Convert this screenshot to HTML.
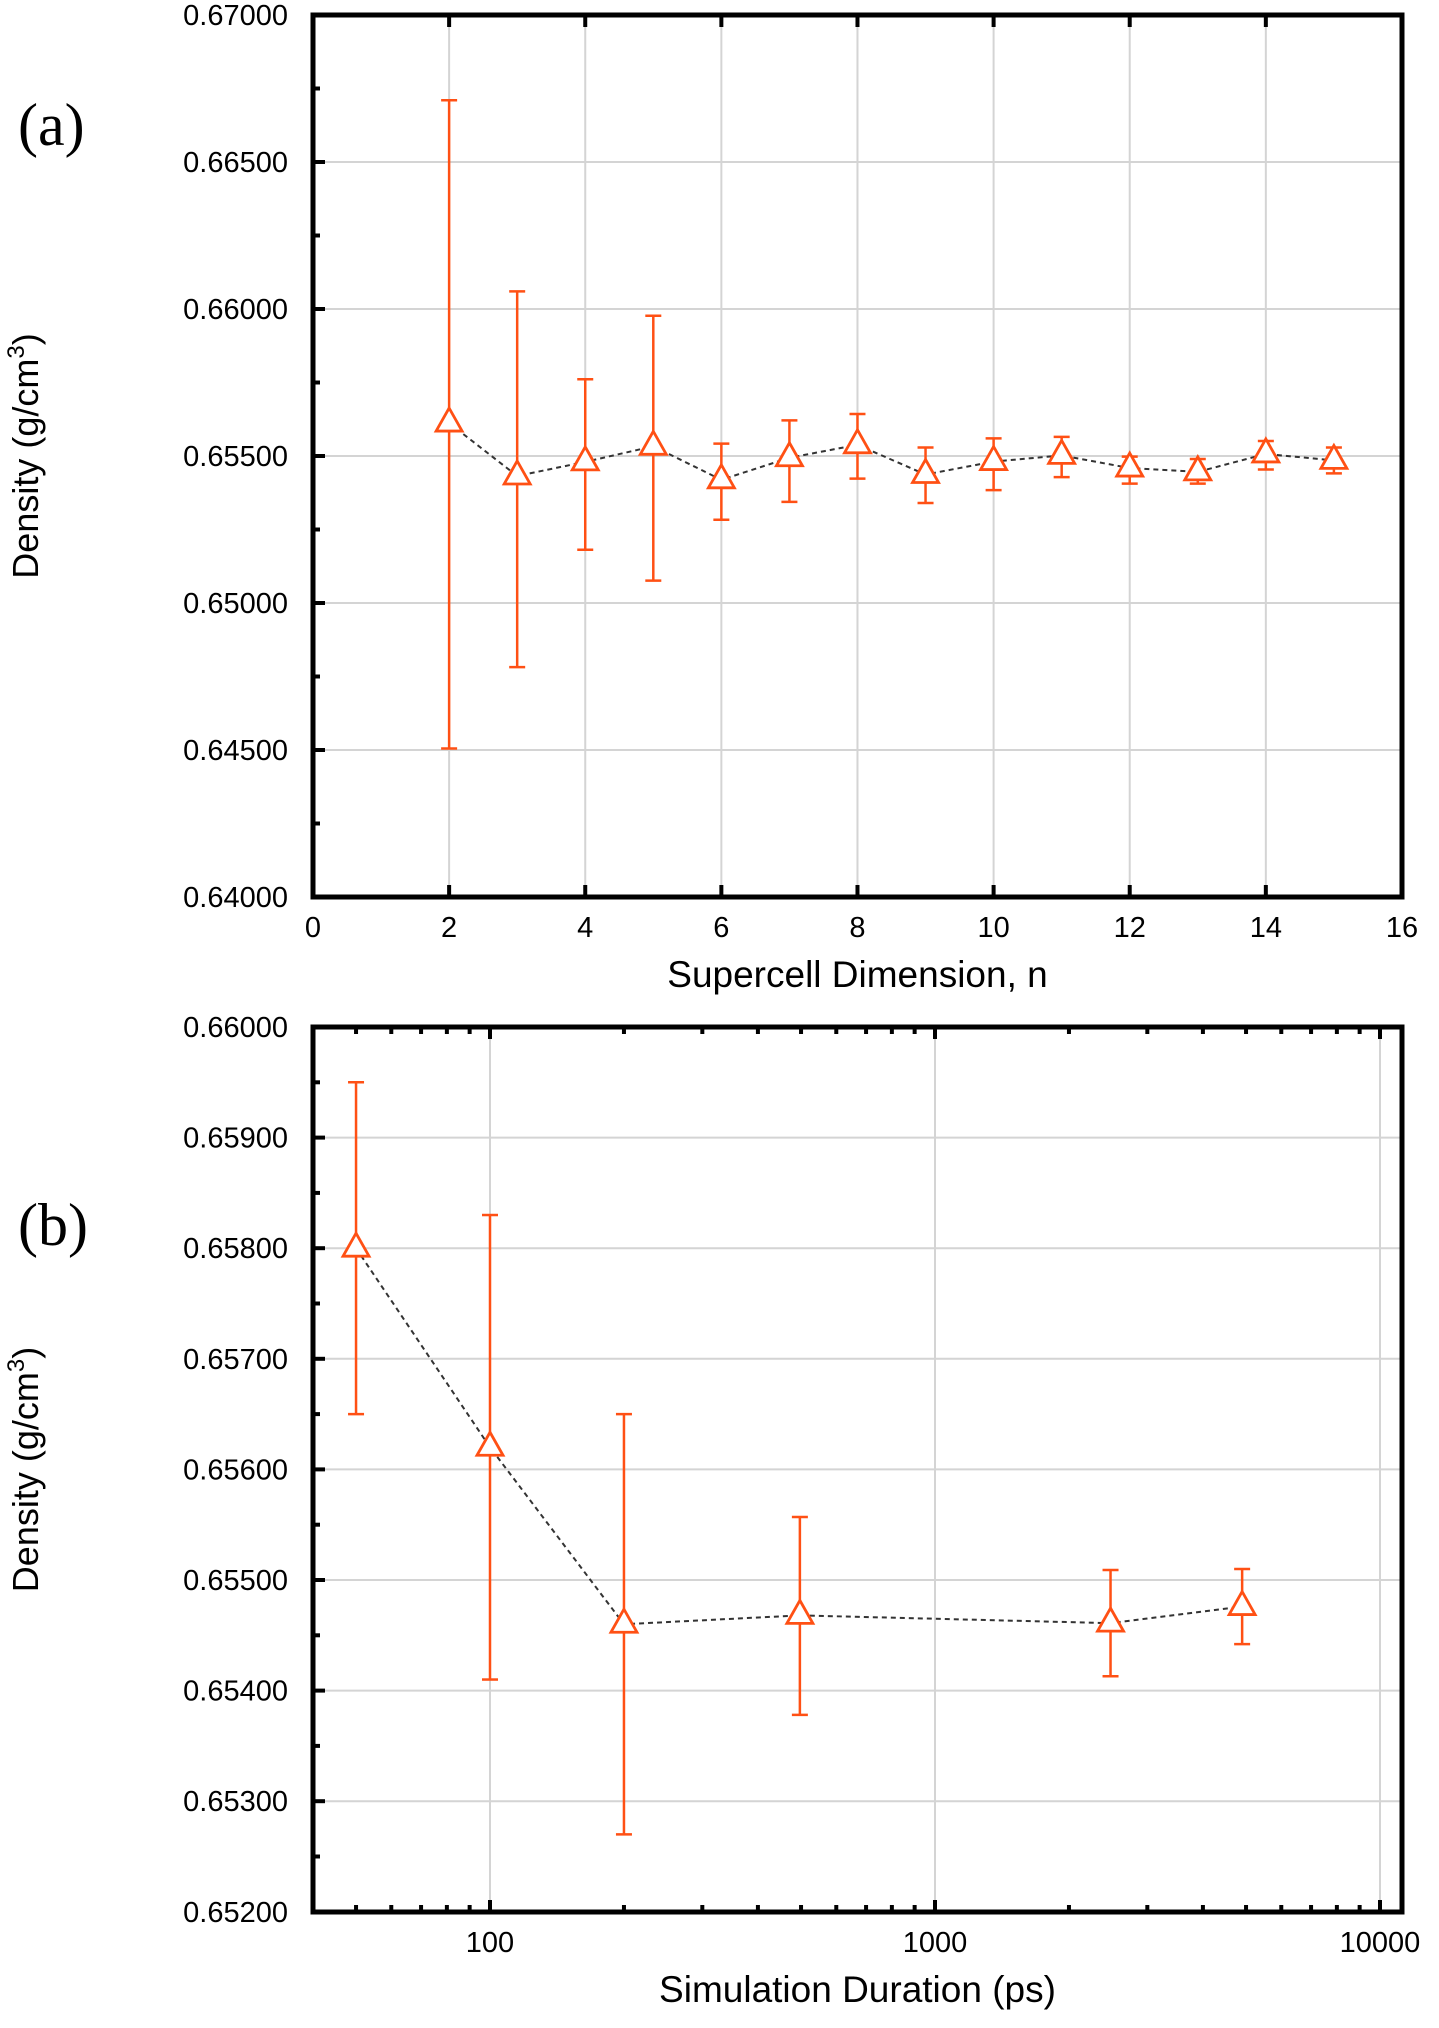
<!DOCTYPE html>
<html><head><meta charset="utf-8"><style>
html,body{margin:0;padding:0;background:#fff;}
svg{display:block;}
text{font-family:"Liberation Sans",sans-serif;fill:#000;}
</style></head><body>
<svg id="s" width="1439" height="2028" xmlns="http://www.w3.org/2000/svg"></svg>
<script>
var s=document.getElementById('s');var o='';
var C='#ff5014';
function L(x1,y1,x2,y2,st){o+='<line x1="'+x1+'" y1="'+y1+'" x2="'+x2+'" y2="'+y2+'" style="'+st+'"/>';}
function T(x,y,t,a,sz,extra){o+='<text x="'+x+'" y="'+y+'" font-size="'+(sz||28)+'" text-anchor="'+(a||'middle')+'" '+(extra||'')+'>'+t+'</text>';}
function panel(P){
 var l=313,r=1402,t=P.top,b=P.bot;
 P.xt.forEach(function(v){var x=P.fx(v);if(x>l+3&&x<r-3)L(x,t,x,b,'stroke:#d4d4d4;stroke-width:2');});
 P.yt.forEach(function(v){var y=P.fy(v);if(y>t+3&&y<b-3)L(l,y,r,y,'stroke:#d4d4d4;stroke-width:2');});
 P.xt.forEach(function(v){var x=P.fx(v);L(x,b,x,b-12,'stroke:#000;stroke-width:4');L(x,t,x,t+12,'stroke:#000;stroke-width:4');T(x,b+40,P.xl(v),'middle',29);});
 P.xm.forEach(function(v){var x=P.fx(v);L(x,b,x,b-7,'stroke:#000;stroke-width:4');L(x,t,x,t+7,'stroke:#000;stroke-width:4');});
 P.yt.forEach(function(v){var y=P.fy(v);L(l,y,l+12,y,'stroke:#000;stroke-width:4');T(288,y+10,v.toFixed(5),'end',29);});
 P.ym.forEach(function(v){var y=P.fy(v);L(l,y,l+7,y,'stroke:#000;stroke-width:4');});
 var pts=P.d.map(function(d){return P.fx(d[0])+','+P.fy(d[1]);}).join(' ');
 o+='<polyline points="'+pts+'" fill="none" stroke="#333" stroke-width="2" stroke-dasharray="5,4"/>';
 P.d.forEach(function(d){var x=P.fx(d[0]),y1=P.fy(d[2]),y2=P.fy(d[3]),y=P.fy(d[1]);
  L(x,y1,x,y2,'stroke:'+C+';stroke-width:2.5');L(x-8,y1,x+8,y1,'stroke:'+C+';stroke-width:2.5');L(x-8,y2,x+8,y2,'stroke:'+C+';stroke-width:2.5');
  o+='<polygon points="'+x+','+(y-15)+' '+(x-13)+','+(y+8)+' '+(x+13)+','+(y+8)+'" fill="#fff" stroke="'+C+'" stroke-width="2.8"/>';});
 o+='<rect x="'+l+'" y="'+t+'" width="'+(r-l)+'" height="'+(b-t)+'" fill="none" stroke="#000" stroke-width="5"/>';
 var cy=(t+b)/2;
 o+='<text x="0" y="0" font-size="36" text-anchor="middle" transform="translate(38,'+cy+') rotate(-90)">Density (g/cm<tspan dy="-14" font-size="24">3</tspan><tspan dy="14">)</tspan></text>';
 T((l+r)/2,b+90,P.xtitle,'middle',37);
}
var a={top:15,bot:897,fx:function(v){return 313+v*68.06;},fy:function(v){return 15+(0.670-v)/0.005*147;},
 xt:[0,2,4,6,8,10,12,14,16],xm:[],xl:function(v){return v;},yt:[0.640,0.645,0.650,0.655,0.660,0.665,0.670],ym:[0.6425,0.6475,0.6525,0.6575,0.6625,0.6675],
 xtitle:'Supercell Dimension, n',
 d:[[2,.65612,.66710,.64505],[3,.65432,.66060,.64782],[4,.65480,.65761,.65181],[5,.65533,.65977,.65076],[6,.65419,.65542,.65283],[7,.65494,.65621,.65344],[8,.65538,.65643,.65423],[9,.65437,.65529,.65340],[10,.65481,.65560,.65384],[11,.65502,.65565,.65428],[12,.65459,.65498,.65406],[13,.65446,.65490,.65406],[14,.65507,.65551,.65454],[15,.65485,.65529,.65441]]};
panel(a);
var bx=function(v){return 490+(Math.log10(v)-2)*445;};
var xm=[];[10,100,1000].forEach(function(d){for(var k=2;k<10;k++){var v=d*k;if(v>=40&&v<=11000)xm.push(v);}});
var b={top:1027,bot:1912,fx:bx,fy:function(v){return 1027+(0.660-v)/0.001*110.6;},
 xt:[100,1000,10000],xm:xm,xl:function(v){return v;},yt:[0.652,0.653,0.654,0.655,0.656,0.657,0.658,0.659,0.660],ym:[0.6525,0.6535,0.6545,0.6555,0.6565,0.6575,0.6585,0.6595],
 xtitle:'Simulation Duration (ps)',
 d:[[50,.6580,.6595,.6565],[100,.6562,.6583,.6541],[200,.6546,.6565,.6527],[497,.65468,.65557,.65378],[2480,.65461,.65509,.65413],[4900,.65476,.65510,.65442]]};
panel(b);
o+='<text x="18" y="145" font-size="60" style="font-family:\'Liberation Serif\',serif">(a)</text>';
o+='<text x="18" y="1245" font-size="60" style="font-family:\'Liberation Serif\',serif">(b)</text>';
s.innerHTML=o;
</script>
</body></html>
